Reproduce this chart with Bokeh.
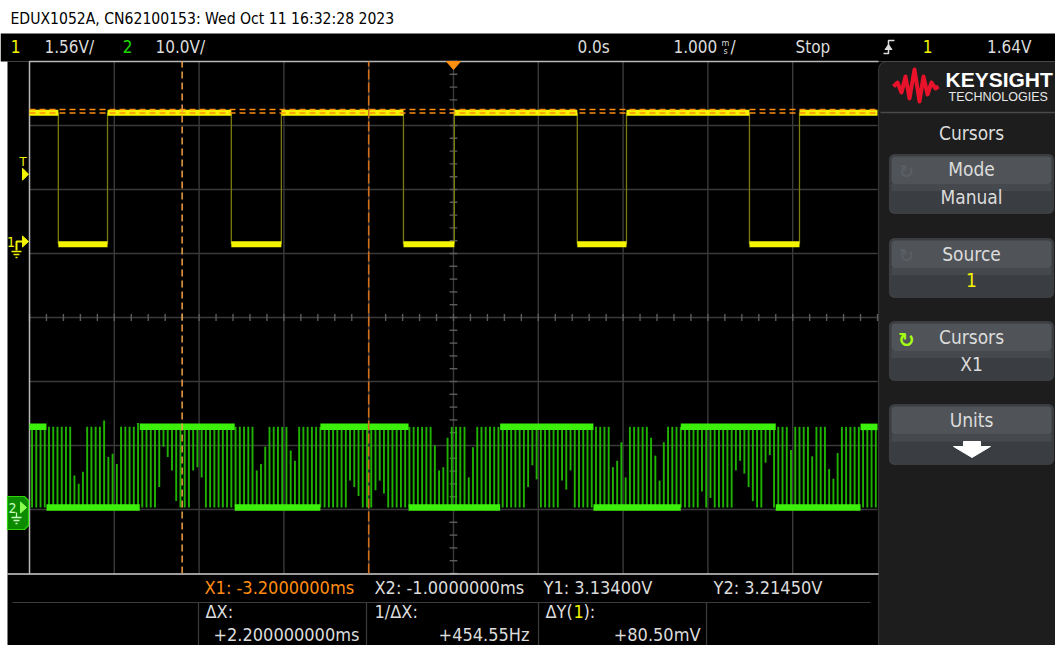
import numpy as np
from bokeh.plotting import figure
from bokeh.models import Range1d, BoxAnnotation
from bokeh.core.properties import value
from bokeh.embed import file_html
from bokeh.resources import INLINE

# ---------------- values ----------------
time_per_div_ms = 1.0
ch1_volts_per_div = 1.56
ch2_volts_per_div = 10.0
trigger_level_v = 1.64

# channel 1 (yellow) square wave
ch1_fall_ms = [-4.66, -2.62, -0.59, 1.46, 3.49]
ch1_rise_ms = [-4.08, -2.03, 0.01, 2.04, 4.08]
ch1_high_v = 3.14
ch1_low_v = -0.07

# channel 2 (green) PWM: bright dwell bands
ch2_high_v = 12.6
ch2_low_v = 0.0
ch2_high_start_ms = [-5.0, -3.70, -1.57, 0.55, 2.68, 4.80]
ch2_high_end_ms = [-4.80, -2.58, -0.53, 1.65, 3.80, 5.0]
ch2_low_start_ms = [-4.80, -2.58, -0.53, 1.65, 3.80]
ch2_low_end_ms = [-3.70, -1.57, 0.55, 2.68, 4.80]

# channel 2 individual PWM edges (time, lower end, upper end)
ch2_edge_ms = [
    -4.97, -4.92, -4.87, -4.82, -4.77, -4.72, -4.67, -4.62, -4.57, -4.52,
    -4.47, -4.42, -4.37, -4.32, -4.27, -4.22, -4.17, -4.12, -4.07, -4.02,
    -3.97, -3.92, -3.87, -3.82, -3.77, -3.72, -3.67, -3.62, -3.57, -3.52,
    -3.47, -3.42, -3.37, -3.32, -3.27, -3.22, -3.17, -3.12, -3.07, -3.02,
    -2.97, -2.92, -2.87, -2.82, -2.77, -2.72, -2.67, -2.62, -2.57, -2.52,
    -2.47, -2.42, -2.37, -2.32, -2.27, -2.22, -2.17, -2.12, -2.07, -2.02,
    -1.97, -1.92, -1.87, -1.82, -1.77, -1.72, -1.67, -1.62, -1.57, -1.52,
    -1.47, -1.42, -1.37, -1.32, -1.27, -1.22, -1.17, -1.12, -1.07, -1.02,
    -0.97, -0.92, -0.87, -0.82, -0.77, -0.72, -0.67, -0.62, -0.57, -0.52,
    -0.47, -0.42, -0.37, -0.32, -0.27, -0.22, -0.17, -0.12, -0.07, -0.02,
    0.03, 0.08, 0.13, 0.18, 0.23, 0.28, 0.33, 0.38, 0.43, 0.48,
    0.53, 0.58, 0.63, 0.68, 0.73, 0.78, 0.83, 0.88, 0.93, 0.98,
    1.03, 1.08, 1.13, 1.18, 1.23, 1.28, 1.33, 1.38, 1.43, 1.48,
    1.53, 1.58, 1.63, 1.68, 1.73, 1.78, 1.83, 1.88, 1.93, 1.98,
    2.03, 2.08, 2.13, 2.18, 2.23, 2.28, 2.33, 2.38, 2.43, 2.48,
    2.53, 2.58, 2.63, 2.68, 2.73, 2.78, 2.83, 2.88, 2.93, 2.98,
    3.03, 3.08, 3.13, 3.18, 3.23, 3.28, 3.33, 3.38, 3.43, 3.48,
    3.53, 3.58, 3.63, 3.68, 3.73, 3.78, 3.83, 3.88, 3.93, 3.98,
    4.03, 4.08, 4.13, 4.18, 4.23, 4.28, 4.33, 4.38, 4.43, 4.48,
    4.53, 4.58, 4.63, 4.68, 4.73, 4.78, 4.83, 4.88, 4.93, 4.98,
]
ch2_edge_lo_v = [
    0, 0, 0, 0, 0, 0, 0, 0, 0, 0,
    0, 0, 0, 0, 0, 0, 0, 0, 0, 0,
    0, 0, 0, 0, 0, 0, 0, 0, 0, 0,
    3.2, 9.5, 7.9, 5.8, 1.0, 0, 0, 0, 5.8, 6.3,
    4.7, 0, 0, 0, 0, 0, 0, 0, 0, 0,
    0, 0, 0, 0, 0, 0, 0, 0, 0, 0,
    0, 0, 0, 0, 0, 0, 0, 0, 0, 0,
    0, 0, 0, 0, 0, 4.2, 3.2, 1.8, 0, 0,
    0, 2.7, 4.2, 2.2, 0, 0, 0, 0, 0, 0,
    0, 0, 0, 0, 0, 0, 0, 0, 0, 0,
    0, 0, 0, 0, 0, 0, 0, 0, 0, 0,
    0, 0, 0, 0, 0, 0, 0, 3.2, 6.6, 4.4,
    0, 0, 0, 0, 0, 4.2, 2.8, 5.8, 0, 0,
    0, 0, 0, 0, 0, 0, 0, 0, 0, 0,
    0, 0, 0, 0, 0, 0, 0, 0, 0, 0,
    0, 0, 0, 0, 0, 0, 0, 0, 2.5, 0,
    1.5, 0, 0, 0, 0, 0, 5.8, 7.3, 5.3, 3.2,
    1.0, 0, 0, 7.0, 8.2, 0, 0, 0, 0, 0,
    0, 0, 0, 0, 0, 0, 0, 0, 0, 0,
    0, 0, 0, 0, 0, 0, 0, 0, 0, 0,
]
ch2_edge_hi_v = [
    12.6, 12.6, 12.6, 12.6, 12.6, 12.6, 12.6, 12.6, 12.6, 12.6,
    5.0, 3.7, 5.6, 12.6, 12.6, 12.6, 12.6, 13.6, 7.9, 8.4,
    6.8, 12.6, 12.6, 12.6, 12.6, 13.2, 12.6, 12.6, 12.6, 12.6,
    12.6, 12.6, 12.6, 12.6, 12.6, 12.6, 12.6, 12.6, 12.6, 12.6,
    12.6, 12.6, 12.6, 12.6, 12.6, 12.6, 12.6, 12.6, 12.6, 12.6,
    12.6, 12.6, 12.6, 5.8, 6.8, 9.5, 12.6, 12.6, 12.6, 12.6,
    12.6, 8.9, 7.3, 12.6, 12.6, 12.6, 12.6, 12.6, 12.6, 12.6,
    12.6, 12.6, 12.6, 12.6, 12.6, 12.6, 12.6, 12.6, 12.6, 12.6,
    12.6, 12.6, 12.6, 12.6, 12.6, 12.6, 12.6, 12.6, 12.6, 12.6,
    12.6, 12.6, 12.6, 12.6, 12.6, 9.7, 5.8, 6.3, 10.9, 12.6,
    12.6, 12.6, 12.6, 4.7, 9.4, 12.6, 12.6, 12.6, 12.6, 12.6,
    12.6, 12.6, 12.6, 12.6, 12.6, 12.6, 12.6, 12.6, 12.6, 12.6,
    12.6, 12.6, 12.6, 12.6, 12.6, 12.6, 12.6, 12.6, 12.6, 12.6,
    12.6, 12.6, 12.6, 12.6, 12.6, 12.6, 12.6, 6.3, 7.3, 10.2,
    4.7, 12.6, 12.6, 12.6, 12.6, 12.6, 10.9, 8.1, 4.2, 10.2,
    12.6, 12.6, 12.6, 12.6, 12.6, 12.6, 12.6, 12.6, 12.6, 12.6,
    12.6, 12.6, 12.6, 12.6, 12.6, 12.6, 12.6, 12.6, 12.6, 12.6,
    12.6, 12.6, 12.6, 12.6, 12.6, 12.6, 12.6, 12.6, 12.6, 9.0,
    12.6, 12.6, 12.6, 12.6, 8.0, 12.6, 12.6, 12.6, 6.0, 4.5,
    8.5, 12.6, 12.6, 12.6, 12.6, 12.6, 12.6, 12.6, 12.6, 12.6,
]

cursor_x1_ms = -3.2
cursor_x2_ms = -1.0
cursor_y1_v = 3.134
cursor_y2_v = 3.2145

# ---------------- screen layout ----------------
W, H = 1055, 645
GL, GR, GT, GB = 29, 877, 61, 573          # graticule edges (px)
DIVX = (GR - GL) / 10.0
DIVY = (GB - GT) / 8.0
CENTER_Y = (GT + GB) / 2.0
CH1_ZERO = 241
CH2_ZERO = 507

F = "DejaVu Sans Condensed, Liberation Sans Narrow, Roboto, sans-serif"
YEL = "#f4f400"
GRN = "#1fd800"
TXT = "#dcdcdc"
ORG = "#ff8c10"

p = figure(width=W, height=H, x_range=Range1d(0, W), y_range=Range1d(H, 0),
           output_backend="svg", toolbar_location=None, min_border=0,
           x_axis_location=None, y_axis_location=None,
           background_fill_color="white", border_fill_color="white",
           outline_line_color=None)
p.grid.visible = False

p.extra_x_ranges = {"t": Range1d(-5 * time_per_div_ms - GL / DIVX * time_per_div_ms,
                                 -5 * time_per_div_ms + (W - GL) / DIVX * time_per_div_ms)}
p.extra_y_ranges = {
    "div": Range1d(-(H - CENTER_Y) / DIVY, CENTER_Y / DIVY),
    "ch1": Range1d(-(H - CH1_ZERO) / DIVY * ch1_volts_per_div, CH1_ZERO / DIVY * ch1_volts_per_div),
    "ch2": Range1d(-(H - CH2_ZERO) / DIVY * ch2_volts_per_div, CH2_ZERO / DIVY * ch2_volts_per_div),
}


def box(l, r, t, b, fill, line=None, lw=1, radius=0, alpha=1.0):
    p.add_layout(BoxAnnotation(left=l, right=r, top=t, bottom=b, fill_color=fill,
                               fill_alpha=alpha, line_color=line, line_width=lw,
                               border_radius=radius, level="underlay", editable=False,
                               propagate_hover=False))


def txt(x, y, s, color=TXT, size=18, align="left", font=F, style="normal"):
    # y is the vertical centre of the text
    p.text(x=[x], y=[y], text=[s], text_color=color, text_font=value(font),
           text_font_size=f"{size}px", text_align=align, text_baseline="middle",
           text_font_style=style)


# backgrounds
box(0, W, 33, 61, "black")
box(7, W, 61, H, "black")
box(878, W + 10, 61, H + 10, "#1d1d1d", line="#8c8c8c", lw=1.2, radius=8)

# ---------------- graticule ----------------
tdiv = [float(i) * time_per_div_ms for i in range(-4, 5)]
p.segment(x0=tdiv, y0=[-4] * 9, x1=tdiv, y1=[4] * 9, x_range_name="t", y_range_name="div",
          line_color="#3a3a3a", line_width=1.4)
vdiv = [float(i) for i in range(-3, 4)]
p.segment(x0=[-5] * 7, y0=vdiv, x1=[5] * 7, y1=vdiv, x_range_name="t", y_range_name="div",
          line_color="#3a3a3a", line_width=1.4)
tick_t = [i * 0.2 for i in range(-25, 26)]
p.segment(x0=tick_t, y0=[-0.055] * len(tick_t), x1=tick_t, y1=[0.055] * len(tick_t),
          x_range_name="t", y_range_name="div", line_color="#5c5c5c", line_width=1.4)
tick_v = [i * 0.2 for i in range(-20, 21)]
p.segment(x0=[-0.045] * len(tick_v), y0=tick_v, x1=[0.045] * len(tick_v), y1=tick_v,
          x_range_name="t", y_range_name="div", line_color="#5c5c5c", line_width=1.4)

# graticule border
p.line(x=[GL, GL, 878], y=[GB, GT, GT], line_color="#b8b8b8", line_width=1.5)
p.line(x=[7, 878], y=[GB + 0.5, GB + 0.5], line_color="#d0d0d0", line_width=1.5)

# ---------------- channel 2 (green PWM) ----------------
p.segment(x0=ch2_edge_ms, y0=ch2_edge_lo_v, x1=ch2_edge_ms, y1=ch2_edge_hi_v,
          x_range_name="t", y_range_name="ch2", line_color="#20b200", line_width=1.9, line_alpha=1.0)
p.segment(x0=ch2_high_start_ms, y0=[ch2_high_v] * len(ch2_high_start_ms),
          x1=ch2_high_end_ms, y1=[ch2_high_v] * len(ch2_high_end_ms),
          x_range_name="t", y_range_name="ch2", line_color="#3cf00c", line_width=6.5)
p.segment(x0=ch2_low_start_ms, y0=[ch2_low_v] * len(ch2_low_start_ms),
          x1=ch2_low_end_ms, y1=[ch2_low_v] * len(ch2_low_end_ms),
          x_range_name="t", y_range_name="ch2", line_color="#3cf00c", line_width=6.5)

# ---------------- channel 1 (yellow square wave) ----------------
hi_start = [-5.0] + ch1_rise_ms
hi_end = ch1_fall_ms + [5.0]
edges = ch1_fall_ms + ch1_rise_ms
p.segment(x0=edges, y0=[ch1_low_v] * len(edges), x1=edges, y1=[ch1_high_v] * len(edges),
          x_range_name="t", y_range_name="ch1", line_color="#7a7a12", line_width=1.3)
p.segment(x0=hi_start, y0=[ch1_high_v] * len(hi_start), x1=hi_end, y1=[ch1_high_v] * len(hi_end),
          x_range_name="t", y_range_name="ch1", line_color=YEL, line_width=6)
p.segment(x0=ch1_fall_ms, y0=[ch1_low_v] * 5, x1=ch1_rise_ms, y1=[ch1_low_v] * 5,
          x_range_name="t", y_range_name="ch1", line_color=YEL, line_width=6)

# ---------------- cursors ----------------
p.segment(x0=[-5, -5], y0=[cursor_y1_v, cursor_y2_v], x1=[5, 5], y1=[cursor_y1_v, cursor_y2_v],
          x_range_name="t", y_range_name="ch1", line_color=ORG, line_width=1.5, line_dash="6 4")
p.segment(x0=[cursor_x1_ms], y0=[-4], x1=[cursor_x1_ms], y1=[4], x_range_name="t",
          y_range_name="div", line_color="#f2a048", line_width=1.5, line_dash="7 4")
p.segment(x0=[cursor_x2_ms], y0=[-4], x1=[cursor_x2_ms], y1=[4], x_range_name="t",
          y_range_name="div", line_color="#d2701a", line_width=1.6, line_dash="10 3")

# trigger position marker
p.patch(x=[446, 460, 453], y=[GT, GT, GT + 8], color="#ff9010")

# ---------------- left-side channel markers ----------------
trig_px = CH1_ZERO - trigger_level_v / ch1_volts_per_div * DIVY
txt(22.5, trig_px - 13, "T", YEL, 13, "center")
p.patch(x=[22, 28, 22], y=[trig_px - 6, trig_px, trig_px + 6], color=YEL)
txt(10.5, CH1_ZERO, "1", YEL, 14, "center")
p.line(x=[16, 16, 22], y=[CH1_ZERO + 9, CH1_ZERO, CH1_ZERO], line_color=YEL, line_width=2)
p.patch(x=[22, 28, 22], y=[CH1_ZERO - 5.5, CH1_ZERO, CH1_ZERO + 5.5], color=YEL)
p.multi_line(xs=[[11, 21], [13, 19], [15, 17]],
             ys=[[CH1_ZERO + 10] * 2, [CH1_ZERO + 13] * 2, [CH1_ZERO + 16] * 2],
             line_color=YEL, line_width=1.5)

p.patch(x=[7, 24, 28, 28, 24, 7], y=[CH2_ZERO - 11, CH2_ZERO - 11, CH2_ZERO - 7, CH2_ZERO + 18,
                                     CH2_ZERO + 22, CH2_ZERO + 22],
        fill_color="#0c8a00", line_color="#2ed40a", line_width=1.2)
txt(12, CH2_ZERO, "2", "#c8ffc0", 14, "center")
p.patch(x=[20, 26, 20], y=[CH2_ZERO - 5.5, CH2_ZERO, CH2_ZERO + 5.5], color="#8cff50")
p.multi_line(xs=[[16, 16], [11, 21], [13, 19], [15, 17]],
             ys=[[CH2_ZERO + 5, CH2_ZERO + 10], [CH2_ZERO + 10] * 2, [CH2_ZERO + 13] * 2,
                 [CH2_ZERO + 16] * 2], line_color="#c8ffc0", line_width=1.3)

# ---------------- title and top status bar ----------------
txt(10, 18, "EDUX1052A, CN62100153: Wed Oct 11 16:32:28 2023", "black", 15.6)
TB = 46
txt(15, TB, "1", YEL, 17, "center")
txt(44, TB, f"{ch1_volts_per_div:.2f}V/", TXT, 17)
txt(127, TB, "2", GRN, 17, "center")
txt(155, TB, f"{ch2_volts_per_div:.1f}V/", TXT, 17)
txt(577, TB, "0.0s", TXT, 17)
txt(673, TB, f"{time_per_div_ms:.3f}", TXT, 17)
txt(725, TB - 4, "m", TXT, 9, "center")
txt(725, TB + 4, "s", TXT, 9, "center")
txt(730, TB, "/", TXT, 17)
txt(795, TB, "Stop", TXT, 17)
p.line(x=[883, 888, 888, 894], y=[53, 53, 40, 40], line_color=TXT, line_width=1.5)
p.patch(x=[884.5, 888, 891.5], y=[49, 44, 49], color=TXT)
txt(927, TB, "1", YEL, 17, "center")
txt(1031, TB, f"{trigger_level_v:.2f}V", TXT, 17, "right")

# ---------------- bottom readout ----------------
p.line(x=[12, 870], y=[602, 602], line_color="#3c3c3c", line_width=1.2)
p.segment(x0=[198, 366, 538, 706], y0=[602] * 4, x1=[198, 366, 538, 706], y1=[645] * 4,
          line_color="#3c3c3c", line_width=1.2)
R1, R2, R3 = 587, 611, 634
txt(204, R1, f"X1: {cursor_x1_ms:.7f}ms", ORG, 18)
txt(374, R1, f"X2: {cursor_x2_ms:.7f}ms", TXT, 18)
txt(543, R1, f"Y1:  {cursor_y1_v:.5f}V", TXT, 18)
txt(713, R1, f"Y2:  {cursor_y2_v:.5f}V", TXT, 18)
dx_ms = cursor_x2_ms - cursor_x1_ms
txt(205, R2, "\u0394X:", TXT, 18)
txt(213, R3, f"{dx_ms:+.9f}ms", TXT, 18)
txt(374, R2, "1/\u0394X:", TXT, 18)
txt(529, R3, f"{1000.0 / dx_ms:+.2f}Hz", TXT, 18, "right")
txt(545, R2, "\u0394Y(", TXT, 18)
txt(573, R2, "1", YEL, 18)
txt(583, R2, "):", TXT, 18)
txt(700, R3, f"{(cursor_y2_v - cursor_y1_v) * 1000:+.2f}mV", TXT, 18, "right")

# ---------------- right soft-key panel ----------------
p.line(x=[893, 897, 901, 905, 909, 914, 919, 923, 927, 931, 935, 938],
       y=[86, 82, 92, 76, 98, 69, 101, 76, 94, 82, 88, 86],
       line_color="#e8132b", line_width=4, line_join="round")
txt(945, 79, "KEYSIGHT", "white", 21, font="Liberation Sans", style="bold")
txt(948, 96, "TECHNOLOGIES", "#e8e8e8", 12.5, font="Liberation Sans")
p.line(x=[880, 1055], y=[112, 112], line_color="#4a4a4a", line_width=1.5)
txt(971, 132, "Cursors", TXT, 19, "center")

buttons = [(154, 213), (238, 297), (321, 380), (404, 464)]
for (bt, bb) in buttons:
    box(889, 1053, bt, bb, "#3a3d41", line="#62666a", lw=1.2, radius=5)
    box(891, 1051, bt + 2, bt + (bb - bt) * 0.5, "#505458", radius=4)
    box(891, 1051, bt + (bb - bt) * 0.5, bt + (bb - bt) * 0.62, "#45494d", radius=0)

txt(971, 168, "Mode", TXT, 19, "center")
txt(971, 196, "Manual", TXT, 19, "center")
txt(971, 253, "Source", TXT, 19, "center")
txt(971, 279, "1", YEL, 19, "center")
txt(971, 336, "Cursors", TXT, 19, "center")
txt(971, 363, "X1", TXT, 19, "center")
txt(971, 419, "Units", TXT, 19, "center")
txt(906, 171, "\u21bb", "#5a5e62", 18, "center", font="DejaVu Sans", style="bold")
txt(906, 255, "\u21bb", "#5a5e62", 18, "center", font="DejaVu Sans", style="bold")
txt(906, 339, "\u21bb", "#a4ff12", 20, "center", font="DejaVu Sans", style="bold")
p.patch(x=[963, 980, 980, 990, 971.5, 953, 963], y=[441, 441, 446, 446, 457, 446, 446],
        color="white")

open("out.html", "w").write(file_html(p, INLINE))
